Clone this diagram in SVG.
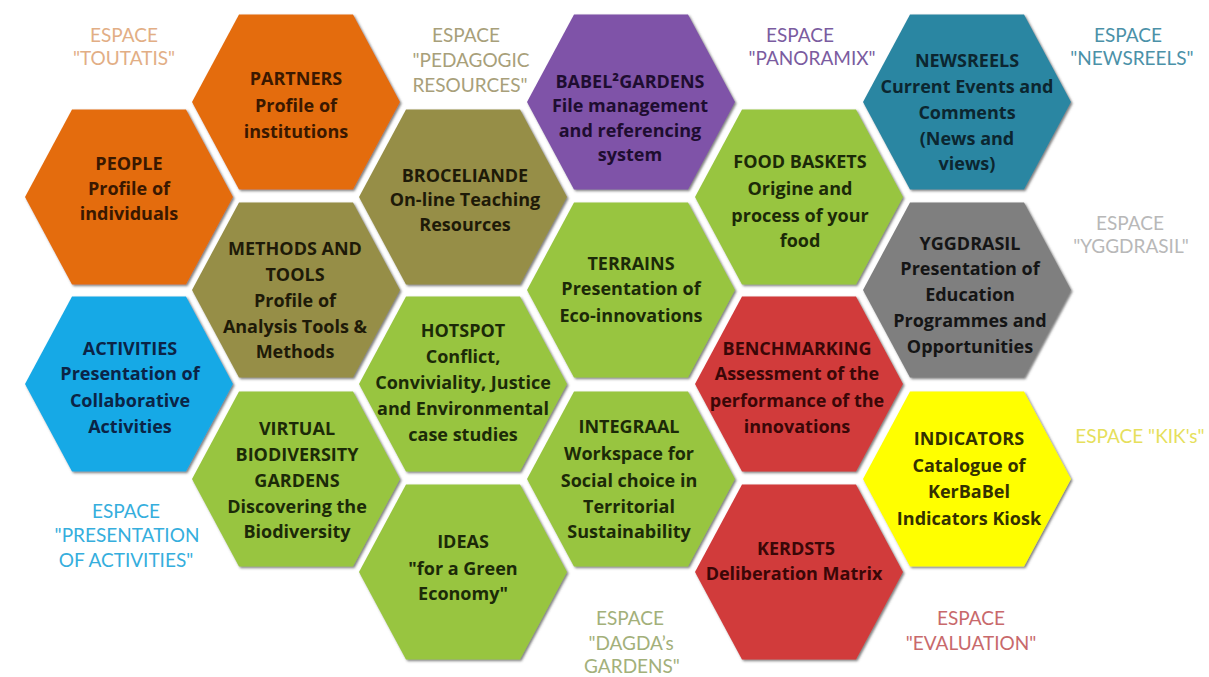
<svg xmlns="http://www.w3.org/2000/svg" xmlns:xlink="http://www.w3.org/1999/xlink" width="1209" height="677" viewBox="0 0 1209 677">
<style>
  .t { font-family: "Open Sans", "Noto Sans", "Liberation Sans", sans-serif; font-weight: bold; font-size: 18px; text-anchor: middle; }
  .e { font-family: Lato, "Noto Sans", "Liberation Sans", sans-serif; font-size: 19px; text-anchor: middle; }
  .orange { fill: #E46C0A; }
  .olive { fill: #968E47; }
  .green { fill: #98C540; }
  .purple { fill: #7F52A8; }
  .teal { fill: #2C86A2; }
  .cyan { fill: #18A9E6; }
  .gray { fill: #7F7F7F; }
  .red { fill: #D13A3A; }
  .yellow { fill: #FFFF00; }
  .to { fill: #3A1800; }
  .tl { fill: #1E1A08; }
  .tg { fill: #1C2A08; }
  .tp { fill: #1E0D30; }
  .tt { fill: #0C2630; }
  .tc { fill: #0B2446; }
  .tk { fill: #151515; }
  .tr { fill: #3A0707; }
  .ty { fill: #333000; }
</style>
<defs>
  <filter id="sh" x="-10%" y="-10%" width="125%" height="125%">
    <feDropShadow dx="1.5" dy="1.5" stdDeviation="0.8" flood-color="#444" flood-opacity="0.7"/>
  </filter>
  <path id="hex" d="M-104,0 L-57,-87.5 L57,-87.5 L104,0 L57,87.5 L-57,87.5 Z"/>
</defs>
<rect width="1209" height="677" fill="#FFFFFF"/>

<g id="labels">
  <g id="espace-toutatis" style="fill:#E2AE85">
    <text class="e" x="124" y="42">ESPACE</text>
    <text class="e" x="124" y="65">"TOUTATIS"</text>
  </g>
  <g id="espace-pedagogic" style="fill:#A8A07A">
    <text class="e" x="466" y="42">ESPACE</text>
    <text class="e" x="471" y="67">"PEDAGOGIC</text>
    <text class="e" x="470" y="92">RESOURCES"</text>
  </g>
  <g id="espace-panoramix" style="fill:#7B5C9F">
    <text class="e" x="800" y="42">ESPACE</text>
    <text class="e" x="812" y="65">"PANORAMIX"</text>
  </g>
  <g id="espace-newsreels" style="fill:#4B91A8">
    <text class="e" x="1128" y="42">ESPACE</text>
    <text class="e" x="1132" y="65">"NEWSREELS"</text>
  </g>
  <g id="espace-yggdrasil" style="fill:#B8B8B8">
    <text class="e" x="1130" y="230">ESPACE</text>
    <text class="e" x="1131" y="253">"YGGDRASIL"</text>
  </g>
  <g id="espace-kiks" style="fill:#E6DF5C">
    <text class="e" x="1140" y="443">ESPACE "KIK's"</text>
  </g>
  <g id="espace-presentation" style="fill:#35AEDD">
    <text class="e" x="126" y="518">ESPACE</text>
    <text class="e" x="127" y="542">"PRESENTATION</text>
    <text class="e" x="126" y="567">OF ACTIVITIES"</text>
  </g>
  <g id="espace-dagda" style="fill:#A3B07A">
    <text class="e" x="630" y="625">ESPACE</text>
    <text class="e" x="631" y="650">"DAGDA’s</text>
    <text class="e" x="632" y="673">GARDENS"</text>
  </g>
  <g id="espace-evaluation" style="fill:#C8696B">
    <text class="e" x="971" y="625">ESPACE</text>
    <text class="e" x="971" y="650">"EVALUATION"</text>
  </g>
</g>

<g id="connectors"></g>

<g id="people">
  <use xlink:href="#hex" href="#hex" x="129" y="197" class="orange" filter="url(#sh)"/>
  <text class="t to" x="129" y="170">PEOPLE</text>
  <text class="t to" x="129" y="195">Profile of</text>
  <text class="t to" x="129" y="220">individuals</text>
</g>
<g id="activities">
  <use xlink:href="#hex" href="#hex" x="129" y="384" class="cyan" filter="url(#sh)"/>
  <text class="t tc" x="130" y="355">ACTIVITIES</text>
  <text class="t tc" x="130" y="380">Presentation of</text>
  <text class="t tc" x="130" y="407">Collaborative</text>
  <text class="t tc" x="130" y="433">Activities</text>
</g>
<g id="partners">
  <use xlink:href="#hex" href="#hex" x="296" y="102" class="orange" filter="url(#sh)"/>
  <text class="t to" x="296" y="85">PARTNERS</text>
  <text class="t to" x="296" y="112">Profile of</text>
  <text class="t to" x="296" y="138">institutions</text>
</g>
<g id="methods">
  <use xlink:href="#hex" href="#hex" x="296" y="290" class="olive" filter="url(#sh)"/>
  <text class="t tl" x="295" y="255">METHODS AND</text>
  <text class="t tl" x="295" y="281">TOOLS</text>
  <text class="t tl" x="295" y="307">Profile of</text>
  <text class="t tl" x="295" y="333">Analysis Tools &amp;</text>
  <text class="t tl" x="295" y="358">Methods</text>
</g>
<g id="virtual">
  <use xlink:href="#hex" href="#hex" x="296" y="479" class="green" filter="url(#sh)"/>
  <text class="t tg" x="297" y="435">VIRTUAL</text>
  <text class="t tg" x="297" y="461">BIODIVERSITY</text>
  <text class="t tg" x="297" y="487">GARDENS</text>
  <text class="t tg" x="297" y="513">Discovering the</text>
  <text class="t tg" x="297" y="538">Biodiversity</text>
</g>
<g id="broceliande">
  <use xlink:href="#hex" href="#hex" x="463" y="197" class="olive" filter="url(#sh)"/>
  <text class="t tl" x="465" y="182">BROCELIANDE</text>
  <text class="t tl" x="465" y="206">On-line Teaching</text>
  <text class="t tl" x="465" y="231">Resources</text>
</g>
<g id="hotspot">
  <use xlink:href="#hex" href="#hex" x="463" y="384" class="green" filter="url(#sh)"/>
  <text class="t tg" x="463" y="337">HOTSPOT</text>
  <text class="t tg" x="463" y="363">Conflict,</text>
  <text class="t tg" x="463" y="389">Conviviality, Justice</text>
  <text class="t tg" x="463" y="415">and Environmental</text>
  <text class="t tg" x="463" y="441">case studies</text>
</g>
<g id="ideas">
  <use xlink:href="#hex" href="#hex" x="463" y="572" class="green" filter="url(#sh)"/>
  <text class="t tg" x="463" y="548">IDEAS</text>
  <text class="t tg" x="463" y="575">"for a Green</text>
  <text class="t tg" x="463" y="600">Economy"</text>
</g>
<g id="babel">
  <use xlink:href="#hex" href="#hex" x="631" y="102" class="purple" filter="url(#sh)"/>
  <text class="t tp" x="630" y="88">BABEL²GARDENS</text>
  <text class="t tp" x="630" y="112">File management</text>
  <text class="t tp" x="630" y="137">and referencing</text>
  <text class="t tp" x="630" y="161">system</text>
</g>
<g id="terrains">
  <use xlink:href="#hex" href="#hex" x="631" y="290" class="green" filter="url(#sh)"/>
  <text class="t tg" x="631" y="270">TERRAINS</text>
  <text class="t tg" x="631" y="295">Presentation of</text>
  <text class="t tg" x="631" y="322">Eco-innovations</text>
</g>
<g id="integraal">
  <use xlink:href="#hex" href="#hex" x="631" y="479" class="green" filter="url(#sh)"/>
  <text class="t tg" x="629" y="433">INTEGRAAL</text>
  <text class="t tg" x="629" y="460">Workspace for</text>
  <text class="t tg" x="629" y="487">Social choice in</text>
  <text class="t tg" x="629" y="513">Territorial</text>
  <text class="t tg" x="629" y="538">Sustainability</text>
</g>
<g id="foodbaskets">
  <use xlink:href="#hex" href="#hex" x="799" y="197" class="green" filter="url(#sh)"/>
  <text class="t tg" x="800" y="168">FOOD BASKETS</text>
  <text class="t tg" x="800" y="195">Origine and</text>
  <text class="t tg" x="800" y="222">process of your</text>
  <text class="t tg" x="800" y="247">food</text>
</g>
<g id="benchmarking">
  <use xlink:href="#hex" href="#hex" x="799" y="384" class="red" filter="url(#sh)"/>
  <text class="t tr" x="797" y="355">BENCHMARKING</text>
  <text class="t tr" x="797" y="380">Assessment of the</text>
  <text class="t tr" x="797" y="407">performance of the</text>
  <text class="t tr" x="797" y="433">innovations</text>
</g>
<g id="kerdst5">
  <use xlink:href="#hex" href="#hex" x="799" y="572" class="red" filter="url(#sh)"/>
  <text class="t tr" x="796" y="555">KERDST5</text>
  <text class="t tr" x="794" y="580">Deliberation Matrix</text>
</g>
<g id="newsreels">
  <use xlink:href="#hex" href="#hex" x="967" y="102" class="teal" filter="url(#sh)"/>
  <text class="t tt" x="967" y="67">NEWSREELS</text>
  <text class="t tt" x="967" y="93">Current Events and</text>
  <text class="t tt" x="967" y="119">Comments</text>
  <text class="t tt" x="967" y="145">(News and</text>
  <text class="t tt" x="967" y="170">views)</text>
</g>
<g id="yggdrasil">
  <use xlink:href="#hex" href="#hex" x="967" y="290" class="gray" filter="url(#sh)"/>
  <text class="t tk" x="970" y="250">YGGDRASIL</text>
  <text class="t tk" x="970" y="275">Presentation of</text>
  <text class="t tk" x="970" y="301">Education</text>
  <text class="t tk" x="970" y="327">Programmes and</text>
  <text class="t tk" x="970" y="353">Opportunities</text>
</g>
<g id="indicators">
  <use xlink:href="#hex" href="#hex" x="967" y="479" class="yellow" filter="url(#sh)"/>
  <text class="t ty" x="969" y="445">INDICATORS</text>
  <text class="t ty" x="969" y="472">Catalogue of</text>
  <text class="t ty" x="969" y="498">KerBaBel</text>
  <text class="t ty" x="969" y="525">Indicators Kiosk</text>
</g>
</svg>
